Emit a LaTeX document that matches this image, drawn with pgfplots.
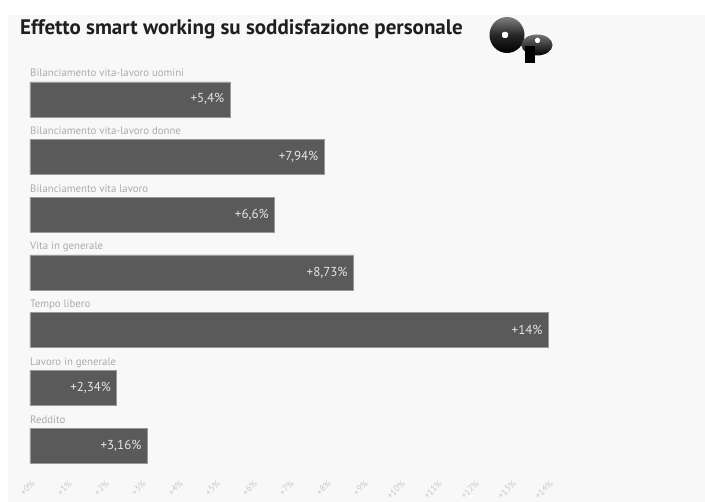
\documentclass[border=0pt]{standalone}
\usepackage{fontspec}
\setmainfont{PT Sans}
\usepackage{pgfplots}
\pgfplotsset{compat=1.18}
\definecolor{bg}{HTML}{F9F8F8}
\definecolor{barc}{HTML}{5A5A5A}
\definecolor{lab}{HTML}{ABABAB}
\definecolor{tick}{HTML}{C8C8C8}
\begin{document}
\begin{tikzpicture}[x=1pt,y=1pt]
\fill[white] (0,0) rectangle (705,502);
\fill[bg] (8,0) rectangle (705,487);
\node[anchor=base west, font=\bfseries\fontsize{21}{21}\selectfont, text=black!88, inner sep=0] at (20,467) {Effetto smart working su soddisfazione personale};
% logo
\shade[top color=black!50, bottom color=black, middle color=black!85] (507,467) ellipse (17.5 and 18);
\fill[white, rounded corners=1.5pt] (502,464) rectangle (508,470);
\shade[top color=black!55, bottom color=black] (537,457) ellipse (15.5 and 10.5);
\fill[black] (525,439) rectangle (535,456);
\fill[white, rounded corners=1.5pt] (535,459) rectangle (540,464);
\begin{axis}[at={(30pt,27.6pt)}, anchor=south west, scale only axis,
  width=518pt, height=404pt, xmin=0, xmax=14, ymin=-0.5, ymax=6.5,
  y dir=reverse, xbar, bar width=35pt, clip=false,
  axis line style={draw=none}, major tick style={draw=none},
  ytick=\empty, xtick={0,...,14},
  /pgf/number format/assume math mode=true,
  xticklabel={+\pgfmathprintnumber{\tick}\%},
  xticklabel style={rotate=45, anchor=east, inner sep=0pt, font=\fontsize{9}{9}\selectfont, text=tick, yshift=-8pt, xshift=-3pt},
  point meta=x,
  nodes near coords={+\pgfmathprintnumber[fixed, use comma, precision=2]{\pgfplotspointmeta}\%},
  nodes near coords style={anchor=east, text=white!90!black, font=\fontsize{13}{13}\selectfont, xshift=-2pt},
]
\addplot[fill=barc, draw=black!40] coordinates {(5.4,0) (7.94,1) (6.6,2) (8.73,3) (14,4) (2.34,5) (3.16,6)};
\node[anchor=base west, inner sep=0, text=lab, font=\fontsize{10.8}{11}\selectfont] at (axis cs:0,0) [yshift=22.5pt] {Bilanciamento vita-lavoro uomini};
\node[anchor=base west, inner sep=0, text=lab, font=\fontsize{10.8}{11}\selectfont] at (axis cs:0,1) [yshift=22.5pt] {Bilanciamento vita-lavoro donne};
\node[anchor=base west, inner sep=0, text=lab, font=\fontsize{10.8}{11}\selectfont] at (axis cs:0,2) [yshift=22.5pt] {Bilanciamento vita lavoro};
\node[anchor=base west, inner sep=0, text=lab, font=\fontsize{10.8}{11}\selectfont] at (axis cs:0,3) [yshift=22.5pt] {Vita in generale};
\node[anchor=base west, inner sep=0, text=lab, font=\fontsize{10.8}{11}\selectfont] at (axis cs:0,4) [yshift=22.5pt] {Tempo libero};
\node[anchor=base west, inner sep=0, text=lab, font=\fontsize{10.8}{11}\selectfont] at (axis cs:0,5) [yshift=22.5pt] {Lavoro in generale};
\node[anchor=base west, inner sep=0, text=lab, font=\fontsize{10.8}{11}\selectfont] at (axis cs:0,6) [yshift=22.5pt] {Reddito};
\end{axis}
\end{tikzpicture}
\end{document}
